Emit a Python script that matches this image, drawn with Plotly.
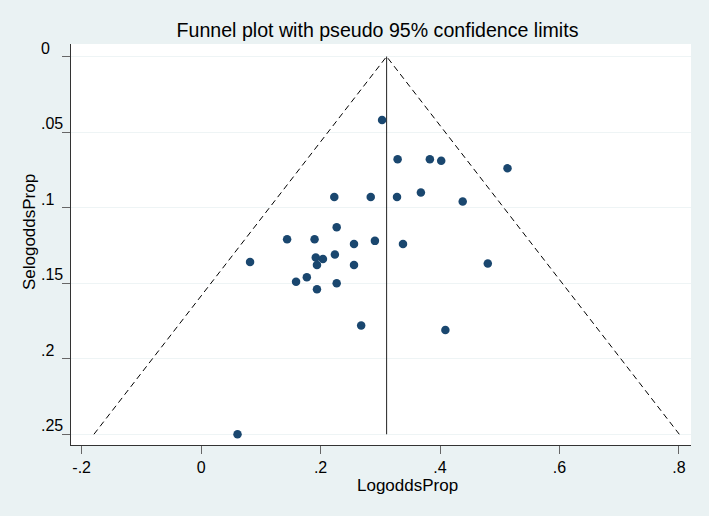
"""
Funnel plot with pseudo 95% confidence limits (Stata style) in Plotly.
"""

import plotly.graph_objects as go

# ── Data ────────────────────────────────────────────────────────────────
logodds_prop = [0.303, 0.329, 0.383, 0.402, 0.513, 0.223, 0.284, 0.328,
                0.368, 0.438, 0.227, 0.144, 0.190, 0.256, 0.291, 0.338,
                0.082, 0.192, 0.204, 0.224, 0.194, 0.256, 0.480, 0.177,
                0.159, 0.227, 0.194, 0.268, 0.409, 0.061]
selogodds_prop = [0.042, 0.068, 0.068, 0.069, 0.074, 0.093, 0.093, 0.093,
                  0.090, 0.096, 0.113, 0.121, 0.121, 0.124, 0.122, 0.124,
                  0.136, 0.133, 0.134, 0.131, 0.138, 0.138, 0.137, 0.146,
                  0.149, 0.150, 0.154, 0.178, 0.181, 0.250]

pooled_est = 0.3106      # fixed-effect estimate (vertical line)
se_max = 0.25            # funnel drawn down to the largest SE
z95 = 1.96

x_tickvals = [-0.2, 0, 0.2, 0.4, 0.6, 0.8]
x_ticktext = ["-.2", "0", ".2", ".4", ".6", ".8"]
y_tickvals = [0, 0.05, 0.1, 0.15, 0.2, 0.25]
y_ticktext = ["0", ".05", ".1", ".15", ".2", ".25"]

BG = "#EAF2F3"
NAVY = "#1A476F"
FONT = "Liberation Sans, Arial, Helvetica, sans-serif"

# ── Traces ───────────────────────────────────────────────────────────────
funnel_x = [pooled_est - z95 * se_max, pooled_est, pooled_est + z95 * se_max]
funnel_y = [se_max, 0, se_max]

funnel = go.Scatter(
    x=funnel_x, y=funnel_y, mode="lines",
    line=dict(color="black", width=1, dash="6px,4px"),
    hoverinfo="skip", showlegend=False,
)
center = go.Scatter(
    x=[pooled_est, pooled_est], y=[0, se_max], mode="lines",
    line=dict(color="#222", width=1),
    hoverinfo="skip", showlegend=False,
)
studies = go.Scatter(
    x=logodds_prop, y=selogodds_prop, mode="markers",
    marker=dict(color=NAVY, size=8.5, line=dict(width=0)),
    showlegend=False,
)

# y tick labels are left-aligned in the Stata graph, so draw them as notes
annotations = []
for v, t in zip(y_tickvals, y_ticktext):
    annotations.append(dict(
        x=-0.0516, xref="paper", y=v, yref="y",
        text=t, showarrow=False, xanchor="left", yanchor="bottom",
        yshift=-2,
        font=dict(size=16, color="black", family=FONT),
    ))

annotations.append(dict(
    x=0.542, xref="paper", y=-0.10, yref="paper",
    text="LogoddsProp", showarrow=False, xanchor="center", yanchor="middle",
    font=dict(size=17, color="black", family=FONT),
))
annotations.append(dict(
    x=-0.0677, xref="paper", y=0.531, yref="paper",
    text="SelogoddsProp", showarrow=False, textangle=-90,
    xanchor="center", yanchor="middle",
    font=dict(size=17, color="black", family=FONT),
))

layout = go.Layout(
    width=709, height=516,
    title=dict(text="Funnel plot with pseudo 95% confidence limits",
               x=377.5 / 709, xanchor="center",
               y=1 - 30 / 516, yanchor="middle", yref="container",
               font=dict(size=19.6, color="black", family=FONT)),
    paper_bgcolor=BG, plot_bgcolor="white",
    margin=dict(l=71, r=18, t=44, b=71),
    xaxis=dict(
        range=[-0.2178, 0.8202], tickvals=x_tickvals, ticktext=x_ticktext,
        showgrid=False, zeroline=False,
        showline=True, linecolor="#333", linewidth=1,
        ticks="outside", ticklen=8, tickcolor="#666", tickwidth=1,
        tickfont=dict(size=16, color="black", family=FONT),
    ),
    yaxis=dict(
        range=[0.2571, -0.0083], tickvals=y_tickvals,
        showticklabels=False,
        showgrid=True, gridcolor="#EEF4F5", gridwidth=1, zeroline=False,
        showline=True, linecolor="#333", linewidth=1,
        ticks="outside", ticklen=8, tickcolor="#666", tickwidth=1,
    ),
    annotations=annotations,
    font=dict(family=FONT, color="black"),
)

fig = go.Figure(data=[funnel, center, studies], layout=layout)
fig.write_html(
    "out.html",
    config={"displayModeBar": False},
    post_script="document.body.style.margin='0';"
                "document.body.style.background='" + BG + "';",
)
